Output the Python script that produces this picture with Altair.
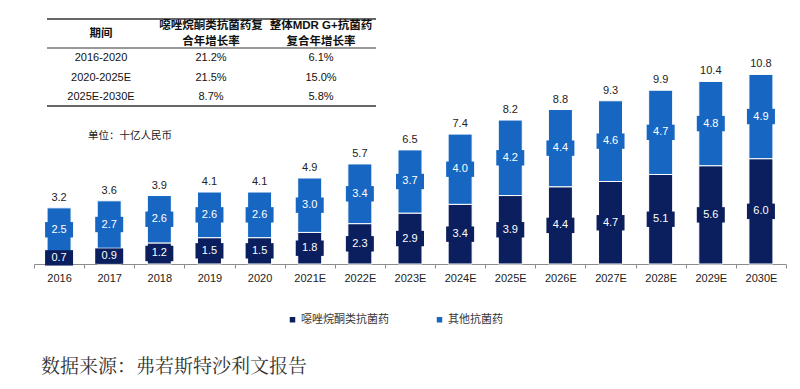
import altair as alt
import pandas as pd

# ---------------- data ----------------
years = ["2016", "2017", "2018", "2019", "2020", "2021E", "2022E", "2023E",
         "2024E", "2025E", "2026E", "2027E", "2028E", "2029E", "2030E"]
oxazolidinone = [0.7, 0.9, 1.2, 1.5, 1.5, 1.8, 2.3, 2.9, 3.4, 3.9, 4.4, 4.7, 5.1, 5.6, 6.0]
others = [2.5, 2.7, 2.6, 2.6, 2.6, 3.0, 3.4, 3.7, 4.0, 4.2, 4.4, 4.6, 4.7, 4.8, 4.9]
totals = [3.2, 3.6, 3.9, 4.1, 4.1, 4.9, 5.7, 6.5, 7.4, 8.2, 8.8, 9.3, 9.9, 10.4, 10.8]
series_names = ["噁唑烷酮类抗菌药", "其他抗菌药"]

table_periods = ["2016-2020", "2020-2025E", "2025E-2030E"]
table_oxa_cagr = ["21.2%", "21.5%", "8.7%"]
table_mdr_cagr = ["6.1%", "15.0%", "5.8%"]
table_headers = ["期间", "噁唑烷酮类抗菌药复\n合年增长率", "整体MDR G+抗菌药\n复合年增长率"]
table_cols = ["c1", "c2", "c3"]

unit_text = "单位：十亿人民币"
source_text = "数据来源：弗若斯特沙利文报告"

DARK = "#0b1f5e"
LIGHT = "#1767c2"
FONT = "Liberation Sans, Arial, Noto Sans CJK SC"

# ---------------- frames ----------------
rows = []
for y, d, l, t in zip(years, oxazolidinone, others, totals):
    rows.append({"year": y, "series": series_names[0], "y0": 0.0, "y1": d,
                 "mid": d / 2, "label": f"{d:.1f}"})
    rows.append({"year": y, "series": series_names[1], "y0": d, "y1": t,
                 "mid": d + (t - d) / 2, "label": f"{l:.1f}"})
bars_df = pd.DataFrame(rows)
tot_df = pd.DataFrame({"year": years, "total": totals,
                       "label": [f"{t:.1f}" for t in totals]})

trows = []
for p, a, b in zip(table_periods, table_oxa_cagr, table_mdr_cagr):
    trows.append({"row": p, "col": "c1", "text": p})
    trows.append({"row": p, "col": "c2", "text": a})
    trows.append({"row": p, "col": "c3", "text": b})
table_df = pd.DataFrame(trows)
head_df = pd.DataFrame({"col": table_cols, "text": table_headers,
                        "y": [23.5, 16, 16]})

YMAX = 14.47
xenc = alt.X("year:N", sort=years,
             scale=alt.Scale(paddingInner=0, paddingOuter=0),
             axis=alt.Axis(title=None, labelAngle=0, tickBand="extent",
                           domainColor="#8c8c8c", tickColor="#8c8c8c",
                           tickSize=4, labelFontSize=11, labelFont=FONT,
                           labelColor="#222222", labelPadding=4, grid=False))
yscale = alt.Scale(domain=[0, YMAX], nice=False, zero=True)
color = alt.Color("series:N", sort=series_names,
                  scale=alt.Scale(domain=series_names, range=[DARK, LIGHT]),
                  legend=alt.Legend(orient="none", legendX=253, legendY=304,
                                    direction="horizontal", title=None,
                                    symbolType="square", symbolSize=30,
                                    symbolStrokeWidth=0, labelFontSize=11,
                                    labelFont=FONT, labelColor="#333333",
                                    columnPadding=45, labelOffset=3))

base = alt.Chart(bars_df)
bars = base.mark_bar(size=24, stroke="white", strokeWidth=1).encode(
    x=xenc,
    y=alt.Y("y0:Q", scale=yscale, axis=None),
    y2="y1:Q",
    color=color,
)
boxes = base.mark_point(shape="M-1,-0.55H1V0.55H-1Z", size=784, filled=True,
                        opacity=1).encode(
    x=alt.X("year:N", sort=years),
    y=alt.Y("mid:Q"),
    color=alt.Color("series:N", legend=None),
)
seg_text = base.mark_text(color="white", fontSize=11, font=FONT).encode(
    x=alt.X("year:N", sort=years),
    y=alt.Y("mid:Q"),
    text="label:N",
)
tot_text = alt.Chart(tot_df).mark_text(fontSize=11, font=FONT, color="#222222",
                                       baseline="bottom", dy=-5).encode(
    x=alt.X("year:N", sort=years),
    y=alt.Y("total:Q"),
    text="label:N",
)
chart_layer = alt.layer(bars, boxes, seg_text, tot_text)

# ---------------- table ----------------
tx = alt.X("col:N", sort=table_cols,
           scale=alt.Scale(type="point", domain=table_cols, range=[67, 287], padding=0),
           axis=None)
pix = alt.Scale(domain=[0, 254], range=[0, 254], nice=False, zero=False)
tbody = alt.Chart(table_df).mark_text(fontSize=11, font=FONT, color="#111111").encode(
    x=tx,
    y=alt.Y("row:N", sort=table_periods,
            scale=alt.Scale(type="point", domain=table_periods, range=[48, 87], padding=0),
            axis=None),
    text="text:N",
)
thead = alt.Chart(head_df).mark_text(fontSize=11.5, font=FONT, fontWeight="bold",
                                     color="#111111", lineBreak="\n",
                                     lineHeight=16).encode(
    x=tx,
    y=alt.Y("y:Q", scale=pix, axis=None),
    text="text:N",
)
line_df = pd.DataFrame({"y": [9, 38, 96], "w": [1.5, 1, 1.5]})
tlines = alt.Chart(line_df).mark_rule(color="#333333").encode(
    x=alt.value(13), x2=alt.value(342),
    y=alt.Y("y:Q", scale=pix, axis=None),
    strokeWidth=alt.StrokeWidth("w:Q", scale=None, legend=None),
)
unit = alt.Chart(pd.DataFrame({"t": [unit_text]})).mark_text(
    fontSize=10.5, font=FONT, color="#222222", align="left").encode(
    x=alt.value(54), y=alt.value(126), text="t:N")
source = alt.Chart(pd.DataFrame({"t": [source_text]})).mark_text(
    fontSize=19, font="Noto Serif CJK SC, serif", color="#333333", align="left").encode(
    x=alt.value(7), y=alt.value(357), text="t:N")
table_layer = alt.layer(tlines, tbody, thead, unit, source)

chart = alt.layer(chart_layer, table_layer).resolve_scale(
    x="independent", y="independent", color="independent"
).properties(
    width=752, height=254,
    padding={"left": 25, "top": 2, "right": 0, "bottom": 4},
).configure_view(stroke=None)

chart.save("out.html", embed_options={"renderer": "svg", "actions": False})
